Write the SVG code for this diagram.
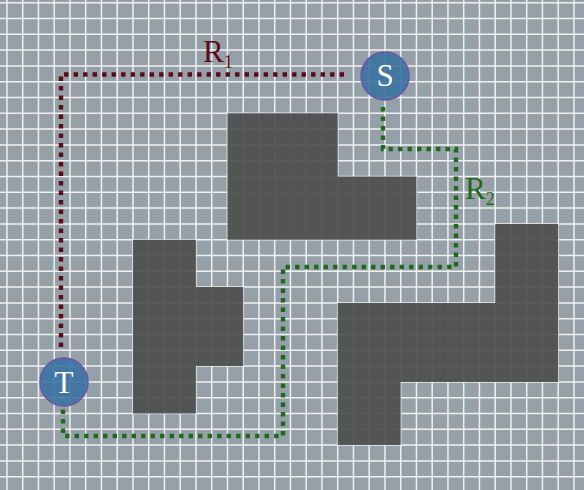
<svg xmlns="http://www.w3.org/2000/svg" width="584" height="490" viewBox="0 0 584 490">
<style>
.bg{fill:#96a0a9}
.grid{stroke:#ffffff;stroke-width:1.5;stroke-opacity:0.85;fill:none}
.block{fill:#4d4d4d;fill-opacity:0.92}
.route{fill:none;stroke-width:4.4;stroke-dasharray:4.4 5.1}
.r1{stroke:#5a0b16}
.r2{stroke:#1d6a1a}
.node circle{fill:#3a72a0;fill-opacity:0.9;stroke:#6a55a8;stroke-width:1.5}
.node text{fill:#ffffff;font-family:"Liberation Serif","Times New Roman",serif;font-size:31px;text-anchor:middle}
.lbl{font-family:"Liberation Serif","Times New Roman",serif;font-size:31px}
</style>
<rect class="bg" x="0" y="0" width="584" height="490"/>
<g id="grid">
<path class="grid" d="M6.95,0V490M22.7,0V490M38.45,0V490M54.2,0V490M69.95,0V490M85.7,0V490M101.45,0V490M117.2,0V490M132.95,0V490M148.7,0V490M164.45,0V490M180.2,0V490M195.95,0V490M211.7,0V490M227.45,0V490M243.2,0V490M258.95,0V490M274.7,0V490M290.45,0V490M306.2,0V490M321.95,0V490M337.7,0V490M353.45,0V490M369.2,0V490M384.95,0V490M400.7,0V490M416.45,0V490M432.2,0V490M447.95,0V490M463.7,0V490M479.45,0V490M495.2,0V490M510.95,0V490M526.7,0V490M542.45,0V490M558.2,0V490M573.95,0V490M0,2.7H584M0,18.5H584M0,34.3H584M0,50.1H584M0,65.9H584M0,81.7H584M0,97.5H584M0,113.3H584M0,129.1H584M0,144.9H584M0,160.7H584M0,176.5H584M0,192.3H584M0,208.1H584M0,223.9H584M0,239.7H584M0,255.5H584M0,271.3H584M0,287.1H584M0,302.9H584M0,318.7H584M0,334.5H584M0,350.3H584M0,366.1H584M0,381.9H584M0,397.7H584M0,413.5H584M0,429.3H584M0,445.1H584M0,460.9H584M0,476.7H584"/>
</g>
<g id="obstacles">
<polygon id="blockA" class="block" points="227.45,113.3 337.7,113.3 337.7,176.5 416.45,176.5 416.45,239.7 227.45,239.7"/>
<polygon id="blockB" class="block" points="132.95,239.7 195.95,239.7 195.95,287.1 243.2,287.1 243.2,366.1 195.95,366.1 195.95,413.5 132.95,413.5"/>
<polygon id="blockC" class="block" points="495.2,223.9 558.2,223.9 558.2,381.9 400.7,381.9 400.7,445.1 337.7,445.1 337.7,302.9 495.2,302.9"/>
</g>
<g id="connectors">
<path id="R1" class="route r1" d="M344,74.5H61V352"/>
<path id="R2" class="route r2" d="M383,107V149H456V267H283V436H63V407"/>
<text class="lbl" x="203" y="62" fill="#5a0b16">R<tspan font-size="18" dy="6">1</tspan></text>
<text class="lbl" x="465" y="199" fill="#1d6a1a">R<tspan font-size="18" dy="6">2</tspan></text>
</g>
<g id="S" class="node">
<circle cx="385" cy="76" r="24"/>
<text x="385" y="86">S</text>
</g>
<g id="T" class="node">
<circle cx="64" cy="382" r="24"/>
<text x="64" y="393">T</text>
</g>
</svg>
